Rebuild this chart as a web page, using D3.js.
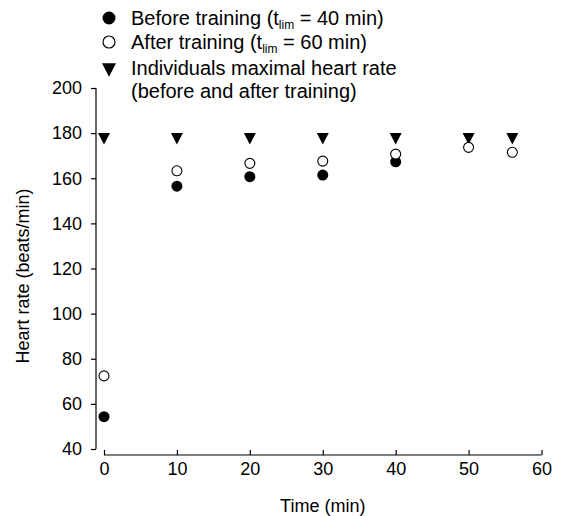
<!DOCTYPE html>
<html>
<head>
<meta charset="utf-8">
<script src="https://cdn.jsdelivr.net/npm/d3@7"></script>
<style>
  body { margin: 0; background: #fff; }
  text, tspan { font-family: "Liberation Sans", Arial, sans-serif; fill: #000; }
</style>
</head>
<body>
<div class="chart"></div>
<script>
// data
var timeBefore = [0, 10, 20, 30, 40];
var hrBefore = [54.3, 156.5, 160.7, 161.4, 167.3];
var timeAfter = [0, 10, 20, 30, 40, 50, 56];
var hrAfter = [72.4, 163.3, 166.6, 167.6, 170.7, 173.7, 171.5];
var timeMax = [0, 10, 20, 30, 40, 50, 56];
var hrMax = [177.5, 177.5, 177.5, 177.5, 177.5, 177.5, 177.5];
var xTicks = [0, 10, 20, 30, 40, 50, 60];
var yTicks = [40, 60, 80, 100, 120, 140, 160, 180, 200];

var svgWidth = 561;
var svgHeight = 516;
var fontSize = "18px";
var legendFont = "20px";

var svg = d3.select(".chart")
  .append("svg")
  .attr("width", svgWidth)
  .attr("height", svgHeight);

var xScale = d3.scaleLinear()
  .domain([0, 60])
  .range([104, 541.5]);

var yScale = d3.scaleLinear()
  .domain([40, 200])
  .range([449, 88]);

var axisX = 96;   // y axis is offset left of x=0
var axisY = 450;  // x axis sits at the bottom

// axes
var bottomAxis = d3.axisBottom(xScale).tickValues(xTicks).tickSize(5).tickPadding(7);
var leftAxis = d3.axisLeft(yScale).tickValues(yTicks).tickSize(5).tickPadding(9);

var gx = svg.append("g")
  .attr("transform", `translate(0, ${axisY})`)
  .call(bottomAxis);
var gy = svg.append("g")
  .attr("transform", `translate(${axisX}, 0)`)
  .call(leftAxis);

[gx, gy].forEach(function(g) {
  g.select(".domain").remove();
  g.selectAll("line").attr("stroke", "#000").attr("stroke-width", 1.2);
  g.selectAll("text")
    .style("font-size", fontSize)
    .style("font-family", "'Liberation Sans', Arial, sans-serif")
    .attr("fill", "#000");
});
gx.selectAll(".tick line").attr("y1", 5).attr("y2", 0);

// axis lines (no end caps)
svg.append("line")
  .attr("x1", xScale(0)).attr("x2", xScale(60))
  .attr("y1", axisY + 5).attr("y2", axisY + 5)
  .attr("stroke", "#000").attr("stroke-width", 1.2);

svg.append("line")
  .attr("x1", axisX).attr("x2", axisX)
  .attr("y1", yScale(200)).attr("y2", yScale(40))
  .attr("stroke", "#000").attr("stroke-width", 1.2);

// axis titles
svg.append("text")
  .attr("transform", `translate(23, 276) rotate(-90)`)
  .attr("text-anchor", "middle")
  .attr("dy", "0.35em")
  .style("font-size", fontSize)
  .text("Heart rate (beats/min)");

svg.append("text")
  .attr("x", (xScale(0) + xScale(60)) / 2)
  .attr("y", 506)
  .attr("text-anchor", "middle")
  .attr("dy", "0.35em")
  .style("font-size", fontSize)
  .text("Time (min)");

// down-pointing triangle
var triSize = 12;
function triPath(cx, cy, s) {
  s = s || triSize;
  var h = s * 0.95, w = s / 2;
  return `M${cx - w},${cy - h / 2}L${cx + w},${cy - h / 2}L${cx},${cy + h / 2}Z`;
}

var maxData = timeMax.map((t, i) => ({t: t, v: hrMax[i]}));
var beforeData = timeBefore.map((t, i) => ({t: t, v: hrBefore[i]}));
var afterData = timeAfter.map((t, i) => ({t: t, v: hrAfter[i]}));

svg.append("g").selectAll("path")
  .data(maxData)
  .enter()
  .append("path")
  .attr("d", d => triPath(xScale(d.t), yScale(d.v)))
  .attr("fill", "#000");

svg.append("g").selectAll("circle")
  .data(beforeData)
  .enter()
  .append("circle")
  .attr("cx", d => xScale(d.t))
  .attr("cy", d => yScale(d.v))
  .attr("r", 5.5)
  .attr("fill", "#000");

svg.append("g").selectAll("circle")
  .data(afterData)
  .enter()
  .append("circle")
  .attr("cx", d => xScale(d.t))
  .attr("cy", d => yScale(d.v))
  .attr("r", 5)
  .attr("fill", "#fff")
  .attr("stroke", "#000")
  .attr("stroke-width", 1.1);

// legend
var legX = 109, legTextX = 131;
var leg = svg.append("g");

leg.append("circle").attr("cx", legX).attr("cy", 18).attr("r", 6.5).attr("fill", "#000");
leg.append("circle").attr("cx", legX).attr("cy", 42).attr("r", 6)
  .attr("fill", "#fff").attr("stroke", "#000").attr("stroke-width", 1.2);
leg.append("path").attr("d", triPath(legX, 70, 14)).attr("fill", "#000");

function limLabel(y, before, after) {
  var t = leg.append("text")
    .attr("x", legTextX).attr("y", y).attr("dy", "0.35em")
    .style("font-size", legendFont);
  t.append("tspan").text(before);
  t.append("tspan").attr("dy", "4").style("font-size", "12px").text("lim");
  t.append("tspan").attr("dy", "-4").text(after);
}
limLabel(18, "Before training (t", " = 40 min)");
limLabel(42, "After training (t", " = 60 min)");

leg.append("text").attr("x", legTextX).attr("y", 68).attr("dy", "0.35em")
  .style("font-size", legendFont).text("Individuals maximal heart rate");
leg.append("text").attr("x", legTextX).attr("y", 91).attr("dy", "0.35em")
  .style("font-size", legendFont).text("(before and after training)");
</script>
</body>
</html>
